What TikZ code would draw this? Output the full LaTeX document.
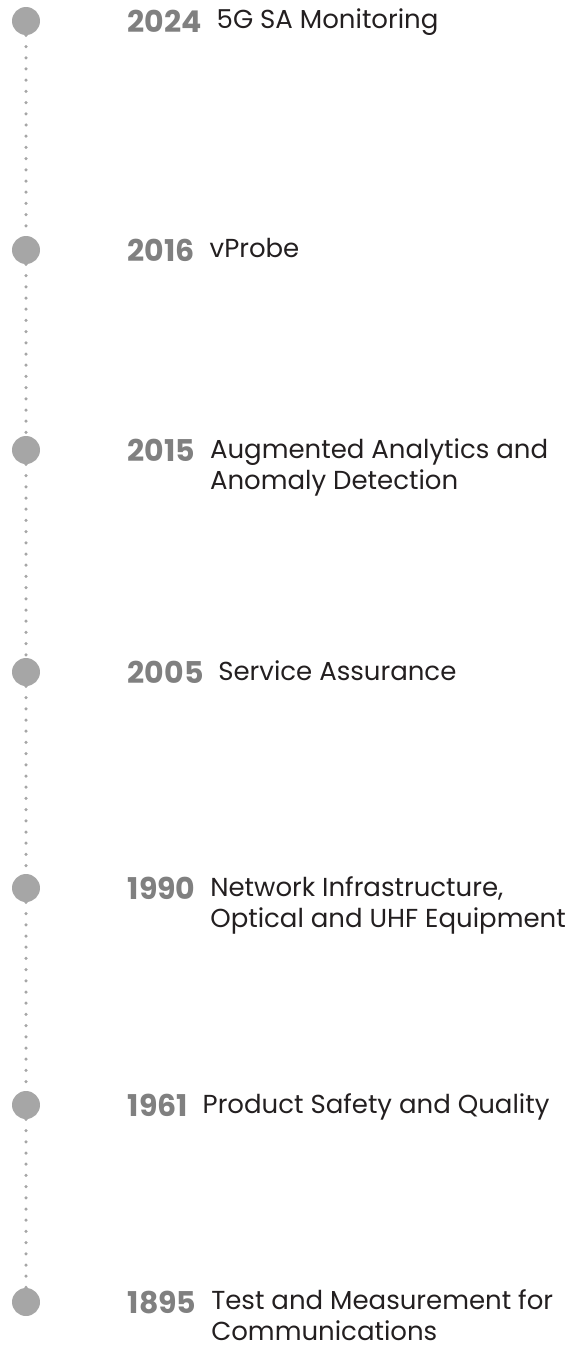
\documentclass[tikz,border=0pt]{standalone}
\usepackage{fontspec}
\setmainfont{Poppins}
\usepackage{xcolor}
\usetikzlibrary{positioning}
\definecolor{dotgray}{HTML}{A6A6A6}
\definecolor{yeargray}{HTML}{808080}
\definecolor{inkgray}{HTML}{231F20}
\tikzset{
	milestone/.style={circle, fill=dotgray, minimum size=14pt, inner sep=0pt},
	yearlabel/.style={font=\fontsize{15}{18}\selectfont\bfseries, text=yeargray, inner sep=0pt},
	desc/.style={font=\fontsize{13}{15.5}\selectfont, text=inkgray, align=left, inner sep=0pt},
	dotline/.style={dotgray, line width=1.75pt, line cap=round, dash pattern=on 0pt off 5.6pt}
}

\begin{document}
\begin{tikzpicture}[x=0.5pt, y=0.5pt]
	\useasboundingbox (0,0) rectangle (580,-1354);

	% milestones, newest on top
	\node[milestone] (m2024) at (26,-21) {};
	\node[milestone] (m2016) at (26,-250) {};
	\node[milestone] (m2015) at (26,-450) {};
	\node[milestone] (m2005) at (26,-672) {};
	\node[milestone] (m1990) at (26,-888) {};
	\node[milestone] (m1961) at (26,-1105) {};
	\node[milestone] (m1895) at (26,-1302) {};

	\foreach \a/\b in {2024/2016, 2016/2015, 2015/2005, 2005/1990, 1990/1961, 1961/1895}
		\draw[dotline] (m\a) -- (m\b);

	% years and what came with them
	\foreach \y/\txt in {2024/{5G SA Monitoring},
			2016/{vProbe},
			2015/{Augmented Analytics and\\Anomaly Detection},
			2005/{Service Assurance},
			1990/{Network Infrastructure,\\Optical and UHF Equipment},
			1961/{Product Safety and Quality},
			1895/{Test and Measurement for\\Communications}}{
		\node[yearlabel, right=43.5pt of m\y] (y\y) {\y};
		\node[desc, anchor=north west] (t\y) at ([xshift=7pt, yshift=0.3pt]y\y.north east) {\txt};
	}
\end{tikzpicture}
\end{document}
